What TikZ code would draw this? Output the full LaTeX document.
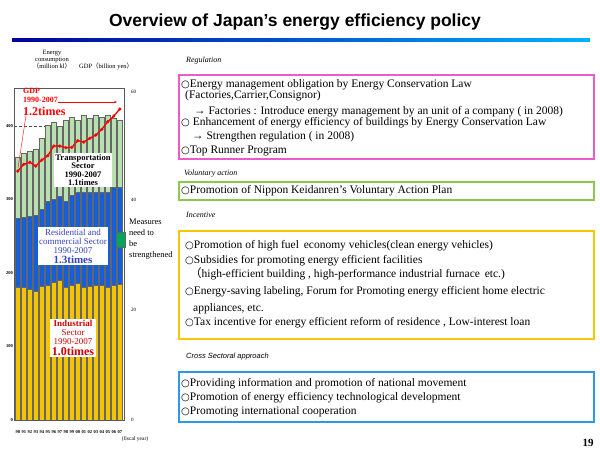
\documentclass[tikz,border=0pt]{standalone}
\usepackage{fontspec}
\setmainfont{Liberation Serif}
\setsansfont{Liberation Sans}
\newfontfamily\djv{DejaVu Sans}
\newfontfamily\cjk{Noto Sans CJK JP}
\newcommand{\bul}{{\djv\fontsize{10}{10}\selectfont ○}}
\newcommand{\lp}{{\cjk （}}
\newcommand{\rp}{{\cjk ）}}
\usetikzlibrary{arrows.meta}
\definecolor{indc}{HTML}{F5C400}
\definecolor{resc}{HTML}{1560D8}
\definecolor{trac}{HTML}{B8E0B0}
\definecolor{pinkc}{HTML}{EE5AC8}
\definecolor{grnc}{HTML}{8CC850}
\definecolor{yelc}{HTML}{F5C800}
\definecolor{bluc}{HTML}{2A9AE8}
\tikzset{
 bar/.style={draw=gray!80!black,line width=0.5pt},
 pbox/.style={line width=1.5pt},
 item/.style={anchor=west,inner sep=0,font=\fontsize{11.5}{12}\selectfont},
 cat/.style={anchor=west,inner sep=0,font=\fontsize{8}{9}\selectfont\itshape},
 tick/.style={inner sep=0,font=\fontsize{4.5}{5}\selectfont\bfseries},
 lab/.style={fill=white,align=center,inner sep=1.5pt,font=\fontsize{8.5}{8.5}\selectfont\bfseries}
}
\begin{document}
\begin{tikzpicture}[x=1pt,y=-1pt]
\useasboundingbox (0,0) rectangle (600,450);
% title
\node[font=\sffamily\bfseries\fontsize{17.5}{19}\selectfont] (title) at (295,22) {Overview of Japan’s energy efficiency policy};
\shade[left color=blue!60!black,right color=cyan!70!blue] (12,38.5) rectangle (590,41.5);
% chart frame
\def\ys{0.735}
\foreach \v/\l in {400/400,300/300,200/200,100/100}{
  \draw[densely dashed,black!70] (14,{420-\v*\ys}) -- (124,{420-\v*\ys});
  \node[tick,anchor=east] (l\v) at (13,{420-\v*\ys}) {\l};
}
\node[tick,anchor=east] (l0) at (13,420) {0};
% bars
\foreach \i/\a/\b/\c in {0/180/275/358,1/180/276/363,2/178/277/366,3/175/279/368,4/182/287/383,5/184/297/401,6/188/300/405,7/190/305/399,8/180/298/408,9/184/306/412,10/186/310/408,11/180/310/414,12/182/310/410,13/183/310/414,14/184/310/412,15/181/310/414,16/184/316/410,17/185/316/408}{
  \pgfmathsetmacro\xx{15.5+\i*6}
  \draw[bar,fill=indc] (\xx,420) rectangle ({\xx+4.6},{420-\a*\ys});
  \draw[bar,fill=resc] (\xx,{420-\a*\ys}) rectangle ({\xx+4.6},{420-\b*\ys});
  \draw[bar,fill=trac] (\xx,{420-\b*\ys}) rectangle ({\xx+4.6},{420-\c*\ys});
}
\draw[gray!70!black] (14,88) rectangle (124,420);
% right axis
\foreach \v/\y in {60/92,40/200,20/310,0/420}{\node[tick,font=\fontsize{5}{5}\selectfont,anchor=west] (r\v) at (131,\y) {\v};}
% x labels
\foreach \i/\t in {0/90,1/91,2/92,3/93,4/94,5/95,6/96,7/97,8/98,9/99,10/00,11/01,12/02,13/03,14/04,15/05,16/06,17/07}{
  \node[tick] (x\i) at ({17.8+\i*6},432) {\t};}
\node[inner sep=0,font=\fontsize{5.5}{6}\selectfont] (fy) at (135,439) {(fiscal year)};
% GDP line
\draw[red,line width=1.3pt] (17.8,171)
 \foreach \i/\y in {1/164.3,2/162.3,3/166,4/160,5/155.7,6/146,7/146,8/147.7,9/147.3,10/140.7,11/142,12/138.3,13/135,14/129.3,15/121.7,16/116,17/109}{ -- ({17.8+\i*6},\y)};
\foreach \i/\y in {0/171,1/164.3,2/162.3,3/166,4/160,5/155.7,6/146,7/146,8/147.7,9/147.3,10/140.7,11/142,12/138.3,13/135,14/129.3,15/121.7,16/116,17/109}{
 \fill[red] ({17.8+\i*6},\y) circle (1.8);}
% headers
\node[align=center,inner sep=0,font=\fontsize{6.5}{7}\selectfont] (eh) at (52,60) {Energy\\consumption\\\lp million kl\rp};
\node[inner sep=0,font=\fontsize{6.5}{7}\selectfont,anchor=west] (gh) at (79,66) {GDP\lp billion yen\rp};
% GDP label
\node[anchor=north west,inner sep=0,text=red,font=\fontsize{8}{9}\selectfont\bfseries,align=left] (gdp) at (23,88) {GDP\\1990-2007};
\node[anchor=north west,inner sep=0,text=red,font=\fontsize{12}{13}\selectfont\bfseries] (gdpt) at (23,107) {1.2times};
\coordinate (ga) at (117,102);
\coordinate (gp) at (18,168);
\draw[red,-{Stealth[length=3pt]}] (gdp.east|-0,102) -- (ga);
\draw[red] (gdpt.west) ++(3,4) -- (gp);
% sector labels
\node[lab,text=black] (tr) at (83,170) {Transportation\\Sector\\1990-2007\\1.1times};
\node[lab,text=resc!70!violet,font=\fontsize{9}{9}\selectfont] (rs) at (73,246) {Residential and\\commercial Sector\\1990-2007\\[1pt]{\bfseries\fontsize{11}{11}\selectfont 1.3times}};
\node[lab,text=red!80!black,font=\fontsize{9}{9}\selectfont] (in) at (73,338) {\bfseries Industrial\\Sector\\1990-2007\\[2pt]{\bfseries\fontsize{12}{12}\selectfont 1.0times}};
% measures
\draw[fill=teal!70!green,draw=black!60] (116,232) rectangle (125,247);
\node[anchor=north west,inner sep=0,align=left,font=\fontsize{8.5}{11}\selectfont] (ms) at (129,219) {Measures\\need to\\be\\strengthened};
% right categories
\node[cat] (c1) at (186,61) {Regulation};
\draw[pbox,draw=pinkc] (179,75) rectangle (594,159);
\node[item] at (181,85) {\bul Energy management obligation by Energy Conservation Law};
\node[item] at (185,96) {(Factories,Carrier,Consignor)};
\node[item] at (194,112) {→ Factories : Introduce energy management by an unit of a company ( in 2008)};
\node[item] at (181,123) {\bul\ Enhancement of energy efficiency of buildings by Energy Conservation Law};
\node[item] at (192,137) {→ Strengthen regulation ( in 2008)};
\node[item] at (181,151) {\bul Top Runner Program};
\node[cat] (c2) at (184,174) {Voluntary action};
\draw[pbox,draw=grnc] (179,182) rectangle (594,200);
\node[item] at (181,191) {\bul Promotion of Nippon Keidanren’s Voluntary Action Plan};
\node[cat] (c3) at (186,215) {Incentive};
\draw[pbox,draw=yelc] (179,231) rectangle (594,339);
\node[item] at (185,246) {\bul Promotion of high fuel\, economy vehicles(clean energy vehicles)};
\node[item] at (185,261) {\bul Subsidies for promoting energy efficient facilities};
\node[item] at (190,274) {\lp high-efficient building , high-performance industrial furnace\, etc.)};
\node[item] at (185,292) {\bul Energy-saving labeling, Forum for Promoting energy efficient home electric};
\node[item] at (193,309) {appliances, etc.};
\node[item] at (185,323) {\bul Tax incentive for energy efficient reform of residence , Low-interest loan};
\node[cat,font=\sffamily\itshape\fontsize{7.5}{8}\selectfont] (c4) at (186,357) {Cross Sectoral approach};
\draw[pbox,draw=bluc] (179,372) rectangle (594,422);
\node[item] at (181,384) {\bul Providing information and promotion of national movement};
\node[item] at (181,398) {\bul Promotion of energy efficiency technological development};
\node[item] at (181,412) {\bul Promoting international cooperation};
\node[font=\bfseries\fontsize{11}{12}\selectfont] (pg) at (588,443) {19};
\end{tikzpicture}
\end{document}
